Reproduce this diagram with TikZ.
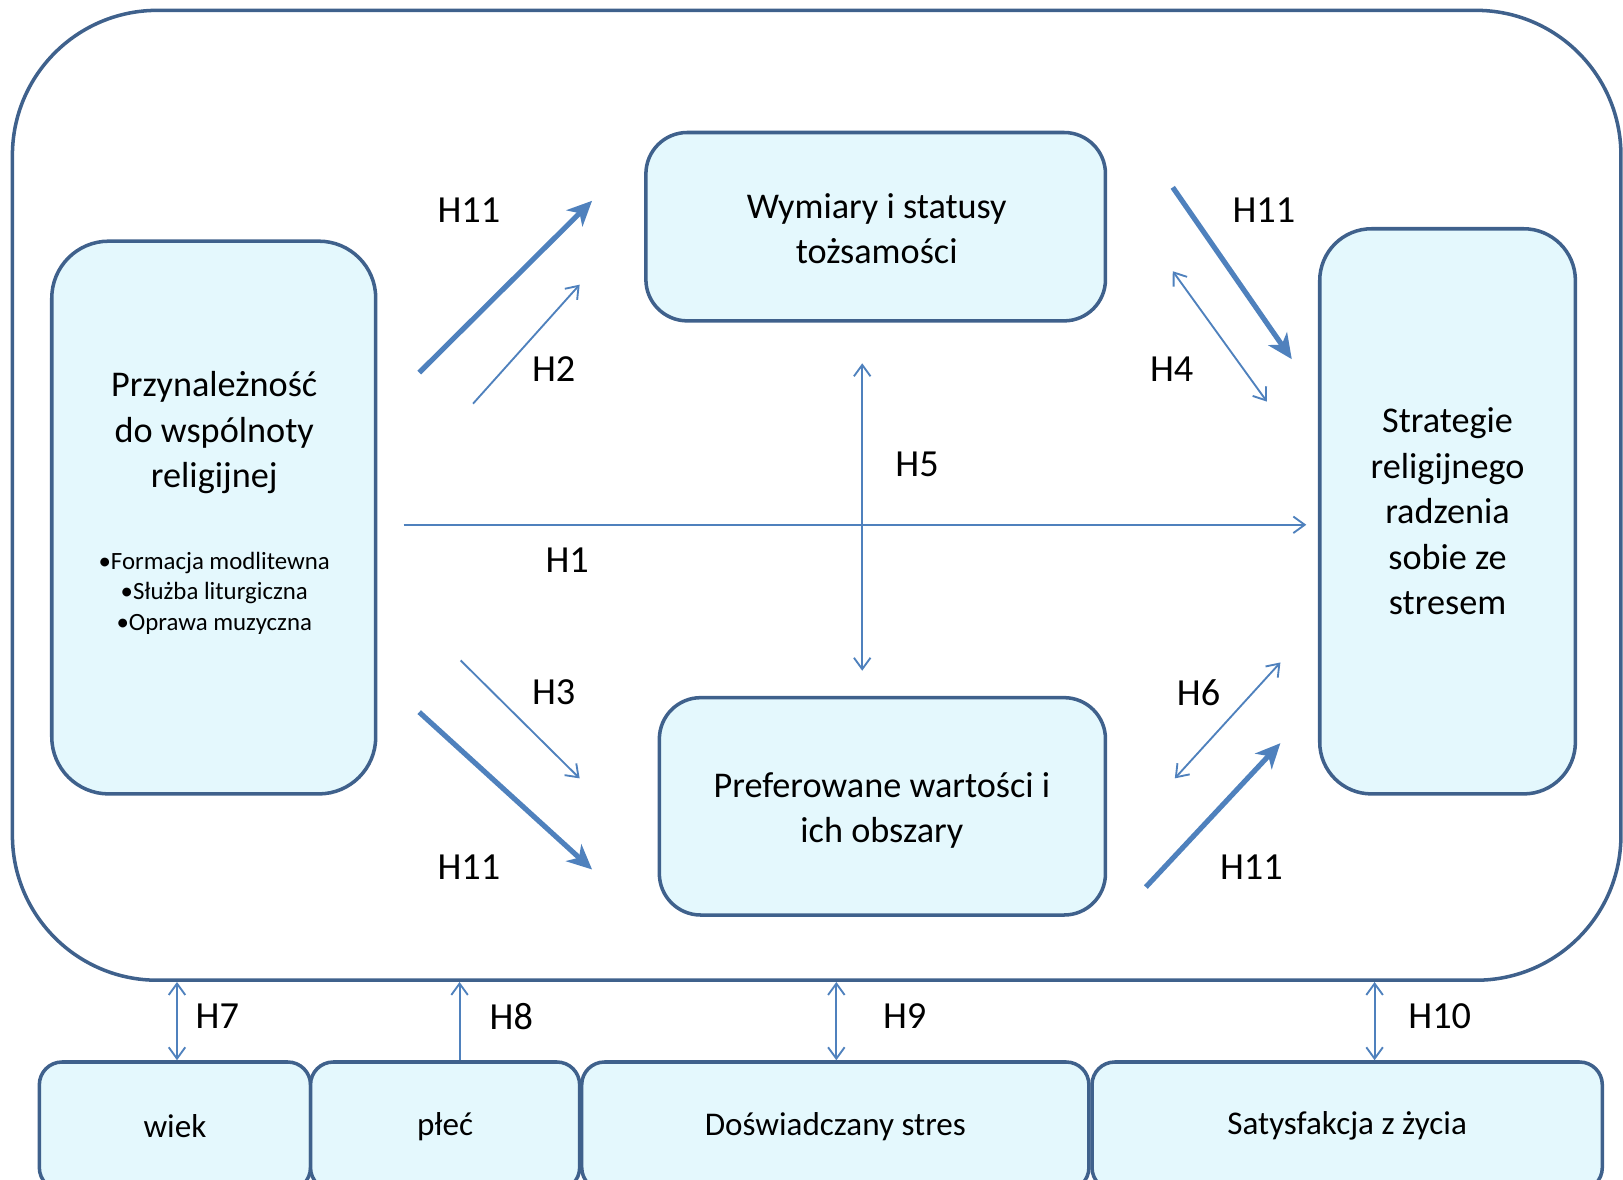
\documentclass[tikz,border=0pt]{standalone}
\usepackage{fontspec}
\setmainfont{Carlito}
\usetikzlibrary{arrows.meta}
\definecolor{bordc}{HTML}{3F618C}
\definecolor{fillc}{HTML}{E4F8FD}
\definecolor{arrc}{HTML}{4F81BD}
\begin{document}
\begin{tikzpicture}[x=1pt,y=-1pt,
  box/.style={draw=bordc, line width=3.4pt, fill=fillc, rounded corners=#1, inner sep=0pt, align=center},
  maintxt/.style={font=\fontsize{35}{44}\selectfont, align=center, inner sep=0pt},
  bultxt/.style={font=\fontsize{24}{29.5}\selectfont, align=center, inner sep=0pt},
  bottxt/.style={font=\fontsize{32}{38}\selectfont},
  hlab/.style={font=\fontsize{37}{40}\selectfont, inner sep=0pt},
  thickarr/.style={draw=arrc, line width=5pt, -{Stealth[length=24pt,width=22pt,inset=7pt]}},
  thinarr/.style={draw=arrc, line width=1.8pt, -{Straight Barb[length=11pt,width=16pt]}},
  thinboth/.style={draw=arrc, line width=1.8pt, {Straight Barb[length=11pt,width=16pt]}-{Straight Barb[length=11pt,width=16pt]}}
]
\useasboundingbox (0,0) rectangle (1568,1140);
\clip (0,0) rectangle (1568,1140);

% outer frame
\node[draw=bordc, line width=3.4pt, rounded corners=140, minimum width=1554, minimum height=937, inner sep=0pt] (frame) at (789,478.5) {};

% main boxes
\node[box=55, minimum width=313, minimum height=534] (A) at (206.5,500) {};
\node[maintxt] (Atxt) at (207,418) {Przynależność\\do wspólnoty\\religijnej};
\node[bultxt] (Abul) at (207,573) {•Formacja modlitewna\\•Służba liturgiczna\\•Oprawa muzyczna};

\node[box=40, minimum width=444, minimum height=182] (B) at (846,219) {};
\node[maintxt] (Btxt) at (847,221) {Wymiary i statusy\\tożsamości};
\node[box=40, minimum width=431, minimum height=210] (C) at (852.5,779) {};
\node[maintxt] (Ctxt) at (852,783) {Preferowane wartości i\\ich obszary};
\node[box=50, minimum width=247, minimum height=546, maintxt] (D) at (1398.5,494) {Strategie\\religijnego\\radzenia\\sobie ze\\stresem};

% bottom boxes
\node[box=22, minimum width=262, minimum height=124, bottxt] (wiek) at (169,1088) {wiek};
\node[box=22, minimum width=260, minimum height=124, bottxt] (plec) at (430,1088) {płeć};
\node[box=22, minimum width=490, minimum height=124, bottxt] (dos) at (807,1088) {Doświadczany stres};
\node[box=22, minimum width=493, minimum height=124, bottxt] (sat) at (1301.5,1088) {Satysfakcja z życia};

% arrow end points
\coordinate (h11as) at (405,360); \coordinate (h11ae) at (572,194);
\coordinate (h2s) at (457,390);   \coordinate (h2e) at (560,275);
\coordinate (h11bs) at (1133,181); \coordinate (h11be) at (1248,347);
\coordinate (h4s) at (1133,262);  \coordinate (h4e) at (1224,388);
\coordinate (h5s) at (833,351);   \coordinate (h5e) at (833,648);
\coordinate (h1s) at (390,507);   \coordinate (h1e) at (1262,507);
\coordinate (h3s) at (445,638);   \coordinate (h3e) at (560,752);
\coordinate (h11cs) at (405,688); \coordinate (h11ce) at (572,840);
\coordinate (h6s) at (1135,752);  \coordinate (h6e) at (1237,640);
\coordinate (h11ds) at (1107,857); \coordinate (h11de) at (1237,718);

\draw[thickarr] (h11as) -- (h11ae);
\draw[thinarr] (h2s) -- (h2e);
\draw[thickarr] (h11bs) -- (h11be);
\draw[thinboth] (h4s) -- (h4e);
\draw[thinboth] (h5s) -- (h5e);
\draw[thinarr] (h1s) -- (h1e);
\draw[thinarr] (h3s) -- (h3e);
\draw[thickarr] (h11cs) -- (h11ce);
\draw[thinboth] (h6s) -- (h6e);
\draw[thickarr] (h11ds) -- (h11de);

% bottom connectors
\coordinate (h7x) at (171,0);
\coordinate (h8x) at (444,0);
\coordinate (h9x) at (808,0);
\coordinate (h10x) at (1328,0);
\draw[thinboth] (h7x |- frame.south) -- (h7x |- wiek.north);
\draw[thinarr] (h8x |- plec.north) -- (h8x |- frame.south);
\draw[thinboth] (h9x |- frame.south) -- (h9x |- dos.north);
\draw[thinboth] (h10x |- frame.south) -- (h10x |- sat.north);

% labels
\node[hlab] (l1) at (453,203) {H11};
\node[hlab] (l2) at (535,357) {H2};
\node[hlab] (l3) at (1221,203) {H11};
\node[hlab] (l4) at (1132,357) {H4};
\node[hlab] (l5) at (886,449) {H5};
\node[hlab] (l6) at (548,541) {H1};
\node[hlab] (l7) at (535,669) {H3};
\node[hlab] (l8) at (1158,669) {H6};
\node[hlab] (l9) at (453,838) {H11};
\node[hlab] (l10) at (1209,838) {H11};
\node[hlab] (l11) at (210,982) {H7};
\node[hlab] (l12) at (494,982) {H8};
\node[hlab] (l13) at (874,982) {H9};
\node[hlab] (l14) at (1391,982) {H10};
\end{tikzpicture}
\end{document}
